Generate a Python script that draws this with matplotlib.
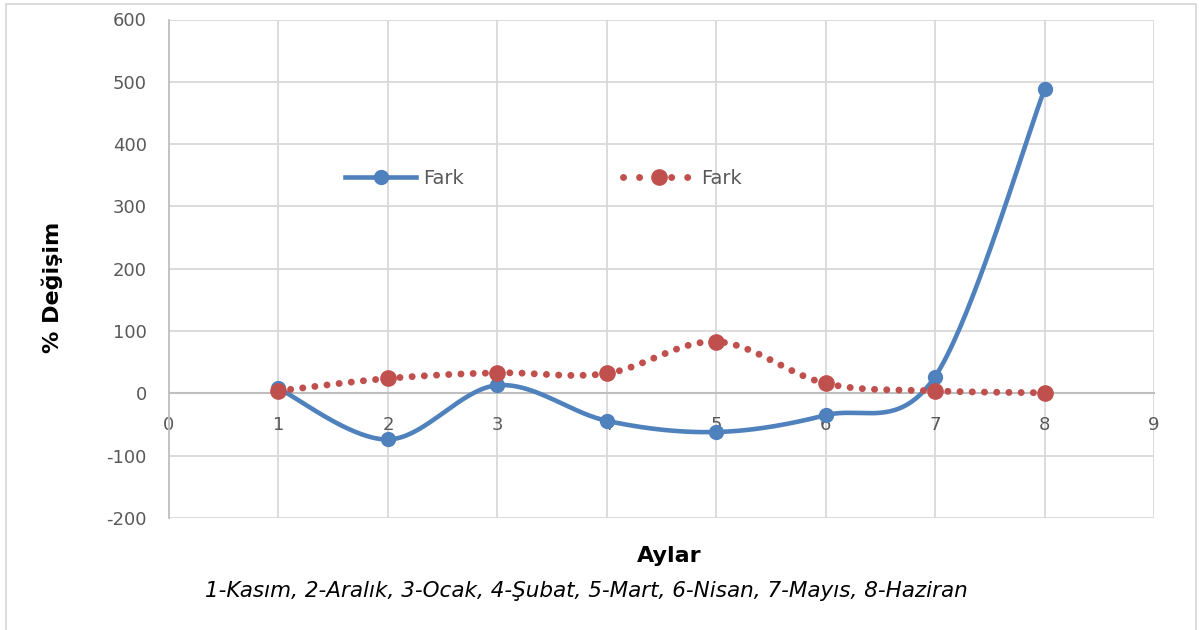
import numpy as np
import matplotlib.pyplot as plt
from matplotlib.patches import Rectangle

plt.rcParams['axes.unicode_minus'] = False

# veriler
aylar = [1, 2, 3, 4, 5, 6, 7, 8]
fark_mavi = [8, -74, 13, -44, -62, -35, 27, 488]
fark_kirmizi = [4, 24, 33, 32, 83, 16, 4, 1]


def smooth(x, y, n=40):
    # Excel'deki "yumusatilmis cizgi" gibi Catmull-Rom / Bezier egrisi
    x = np.asarray(x, float)
    y = np.asarray(y, float)
    px = np.concatenate([[x[0]], x, [x[-1]]])
    py = np.concatenate([[y[0]], y, [y[-1]]])
    xs, ys = [], []
    t = np.linspace(0, 1, n)
    for i in range(1, len(px) - 2):
        p0 = np.array([px[i], py[i]])
        p3 = np.array([px[i + 1], py[i + 1]])
        c1 = p0 + (p3 - np.array([px[i - 1], py[i - 1]])) / 6
        c2 = p3 - (np.array([px[i + 2], py[i + 2]]) - p0) / 6
        b = ((1 - t) ** 3)[:, None] * p0 + (3 * (1 - t) ** 2 * t)[:, None] * c1 \
            + (3 * (1 - t) * t ** 2)[:, None] * c2 + (t ** 3)[:, None] * p3
        xs.append(b[:, 0])
        ys.append(b[:, 1])
    return np.concatenate(xs), np.concatenate(ys)


mavi = '#4f81bd'
kirmizi = '#c0504d'
gri = '#595959'
nokta = (0, (0.01, 1.75))

fig = plt.figure(figsize=(11.99, 6.3), dpi=100)
ax = fig.add_axes([169 / 1199, 1 - 518 / 630, (1154 - 169) / 1199, (518 - 19.5) / 630])

sx, sy = smooth(aylar, fark_mavi)
ax.plot(sx, sy, color=mavi, lw=3.3, solid_capstyle='round', zorder=3)
ax.plot(aylar, fark_mavi, 'o', color=mavi, ms=10, zorder=4)

sx2, sy2 = smooth(aylar, fark_kirmizi)
ax.plot(sx2, sy2, color=kirmizi, lw=5, linestyle=nokta,
        dash_capstyle='round', zorder=3)
ax.plot(aylar, fark_kirmizi, 'o', color=kirmizi, ms=11, zorder=4)

# lejant
l1, = ax.plot([], [], color=mavi, lw=3.3, marker='o', ms=10)
l2, = ax.plot([], [], color=kirmizi, lw=5, linestyle=(0, (0.01, 2.3)),
              dash_capstyle='round', marker='o', ms=11)
ax.legend([l1, l2], ['Fark', 'Fark'], ncol=2, frameon=False, loc='center',
          bbox_to_anchor=(0.38, 0.682), fontsize=14, columnspacing=8.2,
          handlelength=3.65, handletextpad=0.35, labelcolor=gri)

ax.set_xlim(0, 9)
ax.set_ylim(-200, 600)
ax.set_xticks(range(0, 10))
ax.set_yticks(range(-200, 601, 100))
ax.grid(True, color='#d9d9d9', lw=1.3)
ax.set_axisbelow(True)
for s in ['top', 'right']:
    ax.spines[s].set_visible(False)
ax.spines['left'].set_color('#bfbfbf')
ax.spines['left'].set_linewidth(1.3)
ax.spines['bottom'].set_position(('data', 0))
ax.spines['bottom'].set_color('#bfbfbf')
ax.spines['bottom'].set_linewidth(1.5)
ax.tick_params(length=0, labelsize=13, labelcolor=gri)
ax.tick_params(axis='y', pad=16)
ax.tick_params(axis='x', pad=16)

fig.text(52 / 1199, 1 - 287 / 630, '% Değişim', rotation=90, ha='center',
         va='center', fontsize=16, fontweight='bold')
fig.text(669 / 1199, 1 - 556 / 630, 'Aylar', ha='center', va='center',
         fontsize=16, fontweight='bold')
fig.text(586 / 1199, 1 - 591 / 630,
         '1-Kasım, 2-Aralık, 3-Ocak, 4-Şubat, 5-Mart, 6-Nisan, 7-Mayıs, 8-Haziran',
         ha='center', va='center', fontsize=15.5, style='italic')

fig.patches.append(Rectangle((6 / 1199, -0.01), 1190 / 1199, 1.01 - 4 / 630,
                             transform=fig.transFigure, fill=False,
                             edgecolor='#d9d9d9', lw=1.3))

fig.savefig('out.png', dpi=100)
